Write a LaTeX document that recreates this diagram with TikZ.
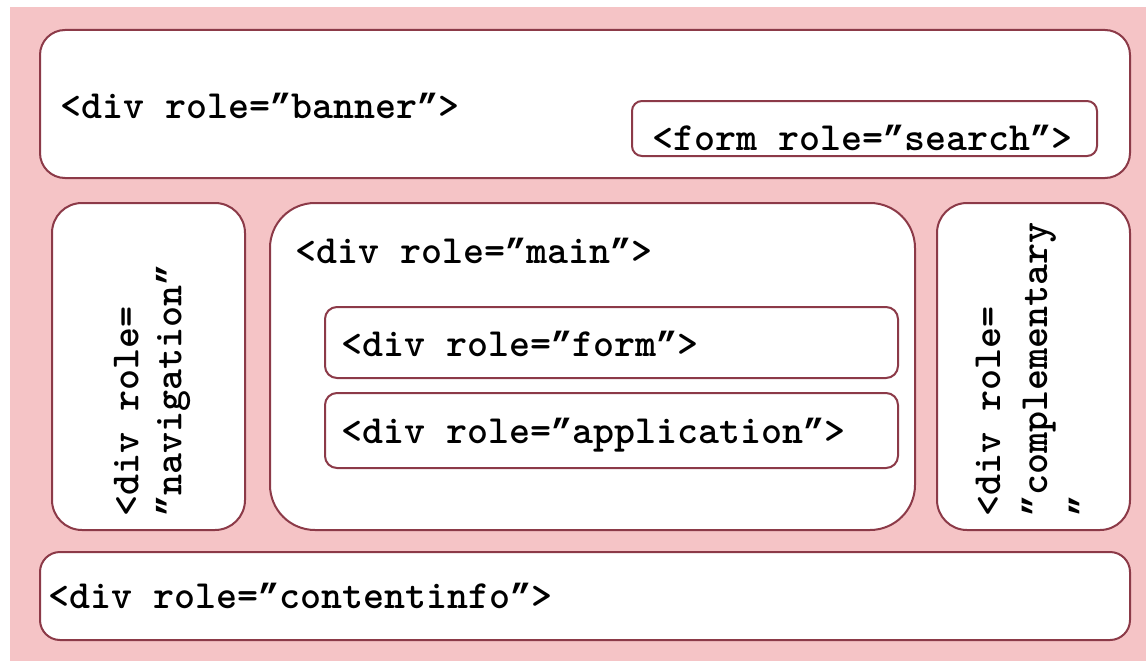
\documentclass[tikz,border=0pt]{standalone}
\usepackage{fontspec}
\newfontfamily\quotefont{Liberation Mono}
\newcommand{\qm}{{\quotefont\bfseries\fontsize{35}{35}\selectfont ”}}
\definecolor{bgpink}{RGB}{245,196,198}
\definecolor{edge}{RGB}{140,58,72}
\begin{document}
\begin{tikzpicture}[x=1pt,y=-1pt,
  box/.style={draw=edge, line width=2pt, fill=white},
  lbl/.style={font=\ttfamily\bfseries\fontsize{40}{43}\selectfont, inner sep=0pt, text=black},
  vlbl/.style={lbl, rotate=90, align=left, anchor=west}]
\useasboundingbox (0,0) rectangle (1146,661);
\fill[bgpink] (10,7) rectangle (1146,661);
% boxes
\draw[box, rounded corners=25pt] (40,30) rectangle (1130,178);
\draw[box, rounded corners=10pt] (632,101) rectangle (1097,156);
\draw[box, rounded corners=30pt] (52,203) rectangle (245,530);
\draw[box, rounded corners=45pt] (270,203) rectangle (915,530);
\draw[box, rounded corners=12pt] (325,307) rectangle (898,378);
\draw[box, rounded corners=12pt] (325,393) rectangle (898,468);
\draw[box, rounded corners=30pt] (937,203) rectangle (1130,530);
\draw[box, rounded corners=20pt] (40,552) rectangle (1130,640);
% labels
\node[lbl, anchor=base west] (banner) at (60,118) {<div role=\qm banner\qm>};
\node[lbl, anchor=base west] (search) at (652,150) {<form role=\qm search\qm>};
\node[lbl, anchor=base west] (main) at (295,263) {<div role=\qm main\qm>};
\node[lbl, anchor=base west] (form) at (341,356) {<div role=\qm form\qm>};
\node[lbl, anchor=base west] (app) at (341,443) {<div role=\qm application\qm>};
\node[lbl, anchor=base west] (info) at (48,608) {<div role=\qm contentinfo\qm>};
\node[vlbl] (nav) at (152,517) {<div role=\\\qm navigation\qm};
\node[vlbl, font=\ttfamily\bfseries\fontsize{40}{47}\selectfont] (comp) at (1035,517) {<div role=\\\qm complementary\\\qm};
\end{tikzpicture}
\end{document}
